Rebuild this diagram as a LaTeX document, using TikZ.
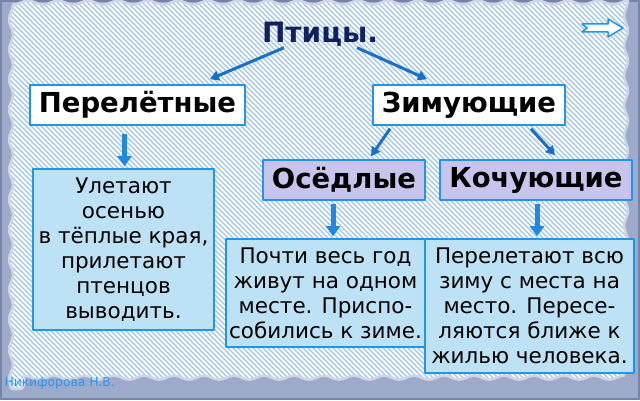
\documentclass[tikz,border=0pt]{standalone}
\usepackage{fontspec}
\setmainfont{DejaVu Sans}
\usetikzlibrary{arrows.meta,positioning,decorations.pathmorphing}
\definecolor{framegray}{RGB}{158,170,202}
\definecolor{framedark}{RGB}{118,132,170}
\definecolor{framelight}{RGB}{208,214,232}
\definecolor{hatchblue}{RGB}{160,196,236}
\definecolor{boxblue}{RGB}{30,150,240}
\definecolor{notefill}{RGB}{190,226,245}
\definecolor{groupfill}{RGB}{200,196,238}
\definecolor{arrowblue}{RGB}{26,111,200}
\definecolor{dropblue}{RGB}{30,136,229}
\definecolor{titlenavy}{RGB}{16,32,96}
\definecolor{authorblue}{RGB}{40,150,240}
\begin{document}
\begin{tikzpicture}[x=1pt,y=1pt,line join=round,
  kind/.style={draw=boxblue,line width=1.6pt,fill=white,inner sep=0pt,
    minimum height=40pt,font=\bfseries\fontsize{27.5}{30}\selectfont},
  group/.style={kind,fill=groupfill},
  note/.style={draw=boxblue,line width=1.6pt,fill=notefill,inner sep=0pt,
    align=center,font=\fontsize{21.5}{25}\selectfont},
  diag/.style={arrowblue,line width=3pt,-{Triangle[length=9pt,width=10pt]}},
  drop/.style={dropblue,line width=5pt,-{Triangle[length=10pt,width=14pt]}},
  wave/.style={decorate,decoration={snake,amplitude=2pt,segment length=30pt}}]
\useasboundingbox (0,0) rectangle (640,400);
% frame and hatched paper
\fill[framegray] (0,0) rectangle (640,400);
\draw[framedark,line width=2pt] (1,1) rectangle (639,399);
\fill[white,wave] (11,11) rectangle (629,389);
\begin{scope}
  \path[clip,wave] (11,11) rectangle (629,389);
  \foreach \i in {-400,-395,...,640}
    \draw[hatchblue,line width=1.4pt] (\i,400) -- ++(400,-400);
\end{scope}
\draw[framelight,line width=2.5pt,wave] (11,11) rectangle (629,389);
% next-slide arrow
\draw[boxblue,fill=white,line width=1.5pt] (582,376) -- (608,376) -- (608,381)
  -- (623,372) -- (608,363) -- (608,368) -- (582,368) -- (587,372) -- cycle;
% boxes
\node[font=\bfseries\fontsize{28}{32}\selectfont,text=titlenavy] (birds) at (320,366) {Птицы.};
\node[kind,minimum width=215pt] (migr) at (137.5,295) {Перелётные};
\node[kind,minimum width=192pt] (winter) at (469,295) {Зимующие};
\node[group,minimum width=162pt] (sed) at (344,220) {Осёдлые};
\node[group,minimum width=192pt] (nomad) at (536,220) {Кочующие};
\node[note,minimum width=181pt,minimum height=161pt] (away) at (123.5,150.5)
  {Улетают\\осенью\\в тёплые края,\\прилетают\\ птенцов\\выводить.};
\node[note,minimum width=199pt,minimum height=108pt] (stay) at (325.5,107)
  {Почти весь год\\живут на одном\\месте. Приспо-\\собились к зиме.};
\node[note,minimum width=209pt,minimum height=134pt] (roam) at (529.5,94)
  {Перелетают всю\\зиму с места на\\место. Пересе-\\ляются ближе к\\жилью человека.};
\node[anchor=west,text=authorblue,font=\fontsize{12.3}{14}\selectfont] (author) at (1,17) {Никифорова Н.В.};
% arrows
\draw[diag] ([xshift=-36pt,yshift=2pt]birds.south) -- ([xshift=72.5pt,yshift=5pt]migr.north);
\draw[diag] ([xshift=37pt,yshift=2pt]birds.south) -- ([xshift=-42pt,yshift=5pt]winter.north);
\draw[diag] ([xshift=-79pt,yshift=-3pt]winter.south) -- ([xshift=27pt,yshift=3pt]sed.north);
\draw[diag] ([xshift=62pt,yshift=-3pt]winter.south) -- ([xshift=19pt,yshift=4pt]nomad.north);
\draw[drop] ([xshift=-13pt,yshift=-8pt]migr.south) -- ([xshift=1pt,yshift=2pt]away.north);
\draw[drop] ([xshift=-11pt,yshift=-3pt]sed.south) -- ([xshift=7.5pt,yshift=2pt]stay.north);
\draw[drop] ([xshift=1pt,yshift=-3pt]nomad.south) -- ([xshift=7.5pt,yshift=2pt]roam.north);
\end{tikzpicture}
\end{document}
